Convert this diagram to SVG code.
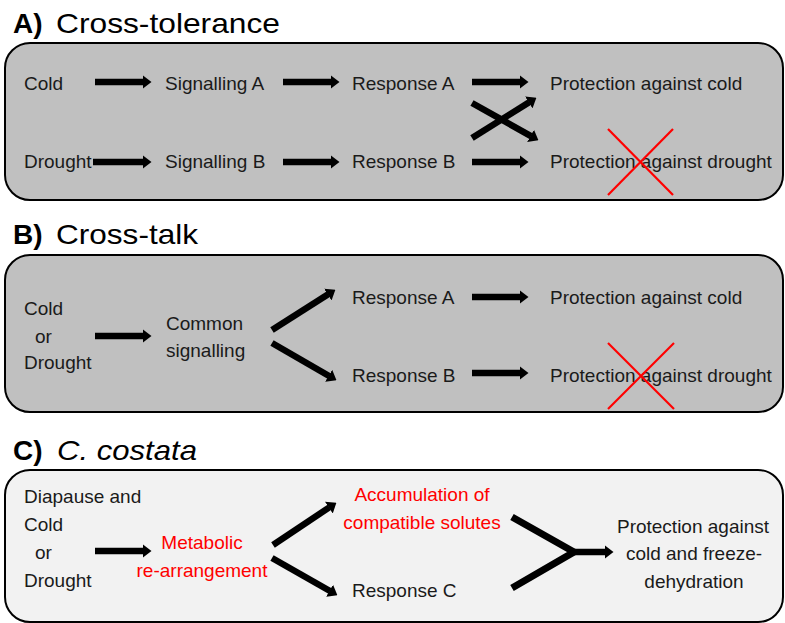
<svg xmlns="http://www.w3.org/2000/svg" width="785" height="623" viewBox="0 0 785 623">
<style>
text{font-family:"Liberation Sans",Arial,sans-serif;font-size:19px;fill:#1a1a1a}
.title{font-size:28px;fill:#000}
.b{font-weight:bold}
.red{fill:#ff0000}
.mid{text-anchor:middle}
.box{stroke:#000;stroke-width:2}
.arr{stroke:#000;stroke-width:6.5;fill:none;marker-end:url(#ah)}
.cross{stroke:#ff0000;stroke-width:2.2}
</style>
<defs>
<marker id="ah" markerUnits="userSpaceOnUse" markerWidth="9" markerHeight="14" viewBox="0 0 9 14" refX="0.5" refY="7" orient="auto">
<path d="M0,0 L9,7 L0,14 z" fill="#000"/>
</marker>
</defs>
<rect width="785" height="623" fill="#fff"/>

<g id="panelA">
<text class="title" x="13" y="33"><tspan class="b">A)</tspan></text>
<text class="title" x="56" y="33" textLength="224" lengthAdjust="spacingAndGlyphs">Cross-tolerance</text>
<rect class="box" x="5" y="43" width="778" height="157" rx="25" fill="#c0c0c0"/>
</g>
<g id="panelB">
<text class="title" x="13" y="244"><tspan class="b">B)</tspan></text>
<text class="title" x="56" y="244" textLength="142" lengthAdjust="spacingAndGlyphs">Cross-talk</text>
<rect class="box" x="5" y="255" width="778" height="157" rx="25" fill="#c0c0c0"/>
</g>
<g id="panelC">
<text class="title" x="13" y="460"><tspan class="b">C)</tspan></text>
<text class="title" x="57" y="460" font-style="italic" textLength="140" lengthAdjust="spacingAndGlyphs">C. costata</text>
<rect class="box" x="5" y="470" width="778" height="152" rx="25" fill="#f2f2f2"/>
</g>

<g id="A-cold"><text x="24" y="90">Cold</text></g>
<g id="A-sigA"><text x="165" y="90">Signalling A</text></g>
<g id="A-respA"><text x="352" y="90">Response A</text></g>
<g id="A-protCold"><text x="550" y="90">Protection against cold</text></g>
<g id="A-drought"><text x="24" y="168">Drought</text></g>
<g id="A-sigB"><text x="165" y="168">Signalling B</text></g>
<g id="A-respB"><text x="352" y="168">Response B</text></g>
<g id="A-protDrought"><text x="550" y="168">Protection against drought</text>
<line class="cross" x1="608" y1="129" x2="673" y2="195"/><line class="cross" x1="673" y1="129" x2="608" y2="195"/></g>

<g id="B-input"><text x="24" y="315">Cold</text><text x="35" y="343">or</text><text x="24" y="369">Drought</text></g>
<g id="B-common"><text x="166" y="330">Common</text><text x="166" y="357">signalling</text></g>
<g id="B-respA"><text x="352" y="304">Response A</text></g>
<g id="B-respB"><text x="352" y="382">Response B</text></g>
<g id="B-protCold"><text x="550" y="304">Protection against cold</text></g>
<g id="B-protDrought"><text x="550" y="382">Protection against drought</text>
<line class="cross" x1="608" y1="343" x2="674" y2="409"/><line class="cross" x1="674" y1="343" x2="608" y2="409"/></g>

<g id="C-input"><text x="24" y="503">Diapause and</text><text x="24" y="531">Cold</text><text x="35" y="559">or</text><text x="24" y="587">Drought</text></g>
<g id="C-metab"><text class="red mid" x="202" y="549">Metabolic</text><text class="red mid" x="202" y="577">re-arrangement</text></g>
<g id="C-accum"><text class="red mid" x="422" y="501">Accumulation of</text><text class="red mid" x="422" y="529">compatible solutes</text></g>
<g id="C-respC"><text x="352" y="597">Response C</text></g>
<g id="C-prot"><text class="mid" x="693" y="533">Protection against</text><text class="mid" x="694" y="560">cold and freeze-</text><text class="mid" x="694" y="588">dehydration</text></g>

<g id="connectors">
<line class="arr" x1="95" y1="82" x2="143" y2="82"/>
<line class="arr" x1="283" y1="82" x2="331" y2="82"/>
<line class="arr" x1="472" y1="82" x2="520" y2="82"/>
<line class="arr" x1="93" y1="162" x2="143" y2="162"/>
<line class="arr" x1="283" y1="162" x2="331" y2="162"/>
<line class="arr" x1="472" y1="162" x2="520" y2="162"/>
<line class="arr" x1="472" y1="138" x2="529.2" y2="102.2"/>
<line class="arr" x1="472" y1="103" x2="531" y2="136.1"/>

<line class="arr" x1="95" y1="336" x2="143" y2="336"/>
<line class="arr" x1="272" y1="330" x2="328.2" y2="294.3"/>
<line class="arr" x1="272" y1="343" x2="329.1" y2="376"/>
<line class="arr" x1="472" y1="297" x2="520" y2="297"/>
<line class="arr" x1="472" y1="373" x2="520" y2="373"/>

<line class="arr" x1="95" y1="551" x2="143" y2="551"/>
<line class="arr" x1="273" y1="545" x2="329.3" y2="507.4"/>
<line class="arr" x1="272" y1="558" x2="330" y2="591"/>
<path d="M512,517 L574,552 L512,588" stroke="#000" stroke-width="7" fill="none"/>
<line class="arr" x1="572" y1="552" x2="605" y2="552"/>
</g>
</svg>
